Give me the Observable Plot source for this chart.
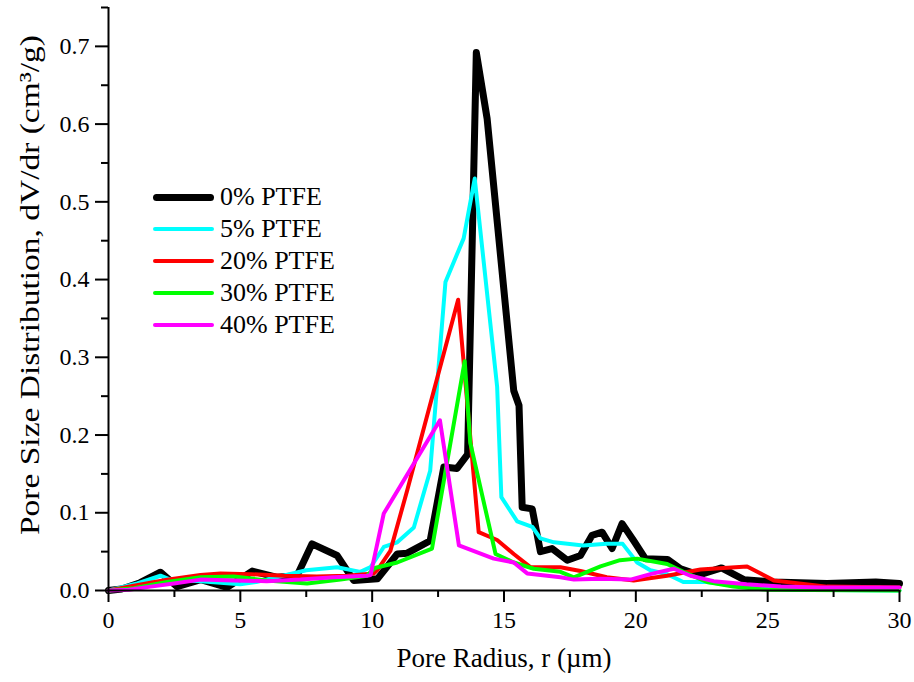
<!DOCTYPE html>
<html>
<head>
<meta charset="utf-8">
<script src="https://cdn.jsdelivr.net/npm/d3@7"></script>
<script src="https://cdn.jsdelivr.net/npm/@observablehq/plot@0.6"></script>
<style>
  html, body { margin: 0; padding: 0; background: #fff; }
  #wrap { position: relative; width: 914px; height: 682px; font-family: 'Liberation Serif', 'Times New Roman', serif; }
  #legend { position: absolute; left: 153px; top: 181px; }
  .row { position: relative; height: 32.1px; display: flex; align-items: center; }
  .sw { width: 61px; border-radius: 4px; margin-right: 6px; }
  .lab { font-size: 26px; color: #000; line-height: 1; white-space: nowrap; }
</style>
</head>
<body>
<div id="wrap"></div>
<script>
// ---- data ----
const seriesNames = ["0% PTFE", "5% PTFE", "20% PTFE", "30% PTFE", "40% PTFE"];
const seriesColors = ["#000000", "#00ffff", "#ff0000", "#00ff00", "#ff00ff"];
const seriesWidths = [7, 4, 4, 4, 4];

const r0 = [0, 0.5, 1.2, 1.97, 2.6, 3.5, 4.5, 5.45, 6.4, 7.15, 7.72, 8.67, 9.3, 10.2, 10.95, 11.33, 12.2, 12.72, 13.22, 13.62, 13.95, 14.36, 15.37, 15.57, 15.69, 16.07, 16.38, 16.82, 17.4, 17.9, 18.34, 18.72, 19.1, 19.48, 19.92, 20.36, 21.2, 21.7, 22.4, 23.25, 24.1, 25.2, 27.25, 29.1, 30];
const v0 = [0, 0.002, 0.01, 0.0235, 0.005, 0.014, 0.004, 0.025, 0.017, 0.019, 0.060, 0.045, 0.013, 0.015, 0.047, 0.048, 0.064, 0.159, 0.157, 0.175, 0.692, 0.607, 0.257, 0.238, 0.107, 0.105, 0.050, 0.054, 0.039, 0.045, 0.071, 0.075, 0.054, 0.086, 0.064, 0.041, 0.040, 0.028, 0.020, 0.029, 0.014, 0.011, 0.009, 0.011, 0.009];

const r5 = [0, 0.58, 1.09, 1.97, 2.35, 3.5, 5.0, 5.6, 6.5, 7.5, 8.67, 9.55, 9.94, 10.44, 10.95, 11.58, 12.2, 12.78, 13.47, 13.89, 14.74, 14.9, 15.5, 16.07, 16.38, 16.9, 18.0, 18.9, 19.5, 20.05, 20.55, 21.19, 21.8, 22.7, 24.0, 26.0, 30];
const v5 = [0, 0.005, 0.009, 0.019, 0.014, 0.012, 0.008, 0.011, 0.018, 0.026, 0.030, 0.024, 0.030, 0.056, 0.062, 0.081, 0.154, 0.397, 0.453, 0.530, 0.262, 0.120, 0.089, 0.082, 0.067, 0.062, 0.058, 0.060, 0.060, 0.036, 0.026, 0.021, 0.011, 0.011, 0.005, 0.001, 0];

const r20 = [0, 0.96, 2.22, 3.49, 4.25, 5.38, 6.65, 7.9, 9.05, 10.06, 10.19, 10.69, 11.33, 13.26, 14.04, 14.74, 15.37, 16.0, 17.14, 17.9, 18.9, 19.92, 21.19, 22.45, 23.33, 24.22, 25.23, 27.25, 30];
const v20 = [0, 0.006, 0.014, 0.020, 0.022, 0.021, 0.019, 0.018, 0.019, 0.022, 0.026, 0.051, 0.129, 0.374, 0.075, 0.065, 0.047, 0.030, 0.030, 0.025, 0.017, 0.013, 0.019, 0.027, 0.029, 0.031, 0.013, 0.005, 0.004];

const r30 = [0, 0.96, 2.22, 3.49, 4.75, 6.0, 7.53, 8.8, 9.8, 10.1, 10.95, 12.27, 13.51, 13.72, 14.68, 15.37, 16.13, 17.14, 17.65, 18.66, 19.4, 20.05, 21.19, 21.8, 22.7, 23.7, 25.0, 30];
const v30 = [0, 0.003, 0.011, 0.017, 0.018, 0.013, 0.009, 0.014, 0.019, 0.029, 0.036, 0.054, 0.295, 0.190, 0.047, 0.036, 0.028, 0.024, 0.017, 0.031, 0.039, 0.041, 0.034, 0.024, 0.011, 0.005, 0.001, 0];

const r40 = [0, 0.77, 1.6, 2.48, 3.49, 4.75, 6.0, 7.28, 8.54, 9.8, 9.94, 10.44, 12.57, 13.29, 14.61, 15.37, 15.88, 17.14, 17.65, 18.66, 19.8, 20.55, 21.44, 22.07, 22.95, 24.2, 25.5, 27.0, 30];
const v40 = [0, 0.001, 0.005, 0.009, 0.014, 0.013, 0.012, 0.014, 0.017, 0.019, 0.020, 0.099, 0.219, 0.058, 0.041, 0.036, 0.022, 0.017, 0.014, 0.015, 0.014, 0.021, 0.028, 0.019, 0.012, 0.008, 0.005, 0.004, 0.004];

const xMajor = [0, 5, 10, 15, 20, 25, 30];
const xMinor = [2.5, 7.5, 12.5, 17.5, 22.5, 27.5];
const yMajor = [0, 0.1, 0.2, 0.3, 0.4, 0.5, 0.6, 0.7];
const yMinor = [0.05, 0.15, 0.25, 0.35, 0.45, 0.55, 0.65, 0.75];
const xTitle = "Pore Radius, r (\u00b5m)";
const yTitle = "Pore Size Distribution, dV/dr (cm\u00b3/g)";

// ---- build ----
const allR = [r0, r5, r20, r30, r40];
const allV = [v0, v5, v20, v30, v40];
const series = seriesNames.map((name, i) => ({
  name, color: seriesColors[i], width: seriesWidths[i],
  data: allR[i].map((r, j) => ({r, v: allV[i][j]}))
}));

const font = "'Liberation Serif', 'Times New Roman', serif";

const chart = Plot.plot({
  width: 914,
  height: 682,
  marginLeft: 108,
  marginRight: 15,
  marginTop: 7,
  marginBottom: 92,
  style: { fontFamily: font, fontSize: "24px", color: "#000", background: "#fff", overflow: "visible" },
  x: { domain: [0, 30] },
  y: { domain: [0, 0.75] },
  marks: [
    ...series.map(s => Plot.line(s.data, { x: "r", y: "v", stroke: s.color, strokeWidth: s.width, strokeLinejoin: "round", strokeLinecap: "round" })),
    Plot.axisX(xMajor, { tickSize: 12, tickPadding: 8, strokeWidth: 2, tickFormat: d => String(d), fontSize: 24, label: null }),
    Plot.axisX(xMinor, { tickSize: 7, strokeWidth: 2, tickFormat: () => "", label: null }),
    Plot.axisY(yMajor, { tickSize: 13, tickPadding: 6, strokeWidth: 2, tickFormat: d3.format(".1f"), fontSize: 24, label: null }),
    Plot.axisY(yMinor, { tickSize: 7, strokeWidth: 2, tickFormat: () => "", label: null }),
    Plot.ruleX([0], { stroke: "#000", strokeWidth: 2 }),
    Plot.ruleY([0], { stroke: "#000", strokeWidth: 2 }),
    Plot.text([xTitle], { frameAnchor: "bottom", textAnchor: "middle", dy: 76, fontSize: 27, fill: "#000" }),
    Plot.text([yTitle], { frameAnchor: "left", textAnchor: "middle", dx: -78, dy: -14, rotate: -90, fontSize: 28, fill: "#000" })
  ]
});

// stretch the y title along its length to match the reference's proportions
d3.select(chart).selectAll("text").filter(function() { return this.textContent === yTitle; })
  .attr("textLength", 500).attr("lengthAdjust", "spacingAndGlyphs");

const wrap = document.getElementById("wrap");
wrap.appendChild(chart);

// legend
const legend = document.createElement("div");
legend.id = "legend";
series.forEach(s => {
  const row = document.createElement("div");
  row.className = "row";
  const sw = document.createElement("div");
  sw.className = "sw";
  sw.style.height = s.width + "px";
  sw.style.background = s.color;
  const lab = document.createElement("span");
  lab.className = "lab";
  lab.textContent = s.name;
  row.appendChild(sw);
  row.appendChild(lab);
  legend.appendChild(row);
});
wrap.appendChild(legend);
</script>
</body>
</html>
